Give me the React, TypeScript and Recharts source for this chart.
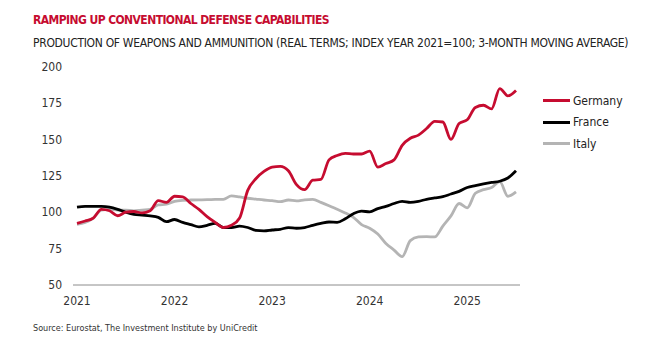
import { Line, LineChart, XAxis, YAxis } from 'recharts';

// monthly index values, Jan 2021 .. Jul 2025 (3-month moving average)
const germany = [
  92.4, 94, 96, 102, 101, 97.6, 100, 100.5, 99.5, 101, 108, 106.8,
  111, 110.5, 106, 102, 97, 93, 89.5, 91, 96, 115, 123, 128,
  131, 131.5, 128.5, 119, 115.5, 122, 122.5, 136, 139, 140.5, 140, 140,
  142, 131, 133.5, 136, 146, 150.8, 153, 157.5, 162.5, 162, 150, 161,
  163.5, 172, 173.5, 171, 185, 180, 183.7,
];
const france = [
  103.5, 104, 104, 104, 103.5, 102, 100, 98.5, 98, 97.5, 96.5, 93.5,
  95, 93, 91.5, 90, 91, 92.4, 89.5, 89.5, 90.5, 89.5, 87.5, 87.2,
  87.8, 88.3, 89.4, 89, 89.5, 91, 92.3, 93.3, 93.1, 95.5, 99, 100.8,
  100.2, 102.5, 104, 106, 107.5, 106.8, 107.5, 108.9, 109.8, 110.7, 112.5, 114.3,
  117, 118.3, 119.5, 120.5, 121.3, 123.5, 128.5,
];
const italy = [
  91.7, 93, 96, 101.5, 102, 101.5, 101.5, 101, 101.5, 102, 105, 105.5,
  107.5, 108.2, 108.4, 108.5, 108.6, 108.8, 108.9, 111.2, 110.5, 109.6, 109, 108.4,
  108, 107.3, 108.4, 107.8, 108.5, 108.8, 106.8, 104.5, 102, 99.5, 96.5, 91.5,
  89, 85, 78.5, 74, 69.5, 80.5, 83, 83.2, 83, 90.5, 97.5, 106,
  103, 113, 115.5, 117, 121, 111, 114,
];
const yearTicks = [0, 12, 24, 36, 48];
const yearLabels = ['2021', '2022', '2023', '2024', '2025'];
const valueTicks = [50, 75, 100, 125, 150, 175, 200];

const series = [
  { key: 'germany', name: 'Germany', color: '#c60c30' },
  { key: 'france', name: 'France', color: '#000000' },
  { key: 'italy', name: 'Italy', color: '#b4b4b4' },
];

const data = germany.map((g, i) => ({ m: i, germany: g, france: france[i], italy: italy[i] }));

const font = '"DejaVu Sans Condensed", "DejaVu Sans", sans-serif';

function LegendBox() {
  return (
    <div style={{ position: 'absolute', left: 543, top: 90, fontSize: 12, color: '#222' }}>
      {series.map((s) => (
        <div key={s.key} style={{ display: 'flex', alignItems: 'center', height: 21.5 }}>
          <span style={{ display: 'inline-block', width: 27, height: 3, background: s.color, marginRight: 3 }} />
          {s.name}
        </div>
      ))}
    </div>
  );
}

export default function App() {
  return (
    <div style={{ position: 'absolute', left: 0, top: 0, width: 668, height: 350, background: '#fff', fontFamily: font }}>
      <div style={{ position: 'absolute', left: 33, top: 13, fontSize: 12, letterSpacing: -0.57, fontWeight: 'bold', color: '#c60c30', whiteSpace: 'nowrap' }}>
        RAMPING UP CONVENTIONAL DEFENSE CAPABILITIES
      </div>
      <div style={{ position: 'absolute', left: 33, top: 36, fontSize: 12, letterSpacing: -0.31, color: '#222', whiteSpace: 'nowrap' }}>
        PRODUCTION OF WEAPONS AND AMMUNITION (REAL TERMS; INDEX YEAR 2021=100; 3-MONTH MOVING AVERAGE)
      </div>
      <LineChart width={668} height={350} data={data} margin={{ top: 66.7, right: 148, bottom: 35, left: 13 }}>
        <XAxis
          dataKey="m"
          type="number"
          domain={[0, 54]}
          ticks={yearTicks}
          tickFormatter={(v) => yearLabels[yearTicks.indexOf(v)]}
          padding={{ left: 4, right: 4 }}
          height={30}
          stroke="#8c8c8c"
          tickLine={false}
          tickSize={0}
          tickMargin={11}
          tick={{ fontSize: 12, fill: '#333', fontFamily: font }}
        />
        <YAxis
          domain={[50, 200]}
          ticks={valueTicks}
          width={60}
          axisLine={false}
          tickLine={false}
          tickSize={0}
          tickMargin={11}
          tick={{ fontSize: 12, fill: '#333', fontFamily: font }}
        />
        {series.slice().reverse().map((s) => (
          <Line
            key={s.key}
            dataKey={s.key}
            name={s.name}
            type="monotone"
            stroke={s.color}
            strokeWidth={2.8}
            dot={false}
            isAnimationActive={false}
          />
        ))}
      </LineChart>
      <LegendBox />
      <div style={{ position: 'absolute', left: 33, top: 323, fontSize: 9, color: '#333', whiteSpace: 'nowrap' }}>
        Source: Eurostat, The Investment Institute by UniCredit
      </div>
    </div>
  );
}
